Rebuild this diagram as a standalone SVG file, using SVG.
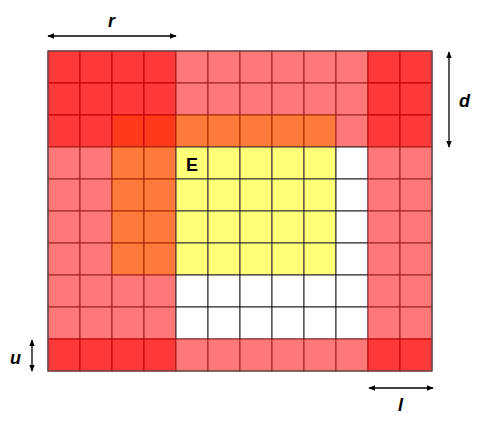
<svg xmlns="http://www.w3.org/2000/svg" width="493" height="438" viewBox="0 0 493 438">
<style>
.R{fill:#FF3939;stroke:#C00000;stroke-width:1}
.O{fill:#FF3A1C;stroke:#C00000;stroke-width:1}
.A{fill:#FF7A3A;stroke:#A02800;stroke-width:1}
.P{fill:#FF7878;stroke:#9A2020;stroke-width:1}
.Y{fill:#FFFF78;stroke:#333;stroke-width:1}
.W{fill:#FFFFFF;stroke:#222;stroke-width:1}
.lbl{font-family:"Liberation Sans",Arial,sans-serif;font-weight:bold;font-style:italic;font-size:18px;fill:#000}
.ar{stroke:#000;stroke-width:1.3;fill:none;marker-start:url(#h);marker-end:url(#h)}
</style>
<defs>
<marker id="h" viewBox="0 0 10 10" refX="9" refY="5" markerWidth="7" markerHeight="7" orient="auto-start-reverse" markerUnits="userSpaceOnUse">
<path d="M0,1 L10,5 L0,9 Z" fill="#000"/>
</marker>
</defs>
<rect x="0" y="0" width="493" height="438" fill="#fff"/>
<g id="grid">
<g transform="translate(48,51)">
<rect class="R" x="0" y="0" width="32" height="32"/><rect class="R" x="32" y="0" width="32" height="32"/><rect class="R" x="64" y="0" width="32" height="32"/><rect class="R" x="96" y="0" width="32" height="32"/>
<rect class="P" x="128" y="0" width="32" height="32"/><rect class="P" x="160" y="0" width="32" height="32"/><rect class="P" x="192" y="0" width="32" height="32"/><rect class="P" x="224" y="0" width="32" height="32"/><rect class="P" x="256" y="0" width="32" height="32"/><rect class="P" x="288" y="0" width="32" height="32"/>
<rect class="R" x="320" y="0" width="32" height="32"/><rect class="R" x="352" y="0" width="32" height="32"/>
</g>
<g transform="translate(48,83)">
<rect class="R" x="0" y="0" width="32" height="32"/><rect class="R" x="32" y="0" width="32" height="32"/><rect class="R" x="64" y="0" width="32" height="32"/><rect class="R" x="96" y="0" width="32" height="32"/>
<rect class="P" x="128" y="0" width="32" height="32"/><rect class="P" x="160" y="0" width="32" height="32"/><rect class="P" x="192" y="0" width="32" height="32"/><rect class="P" x="224" y="0" width="32" height="32"/><rect class="P" x="256" y="0" width="32" height="32"/><rect class="P" x="288" y="0" width="32" height="32"/>
<rect class="R" x="320" y="0" width="32" height="32"/><rect class="R" x="352" y="0" width="32" height="32"/>
</g>
<g transform="translate(48,115)">
<rect class="R" x="0" y="0" width="32" height="32"/><rect class="R" x="32" y="0" width="32" height="32"/><rect class="O" x="64" y="0" width="32" height="32"/><rect class="O" x="96" y="0" width="32" height="32"/>
<rect class="A" x="128" y="0" width="32" height="32"/><rect class="A" x="160" y="0" width="32" height="32"/><rect class="A" x="192" y="0" width="32" height="32"/><rect class="A" x="224" y="0" width="32" height="32"/><rect class="A" x="256" y="0" width="32" height="32"/><rect class="P" x="288" y="0" width="32" height="32"/>
<rect class="R" x="320" y="0" width="32" height="32"/><rect class="R" x="352" y="0" width="32" height="32"/>
</g>
<g transform="translate(48,147)">
<rect class="P" x="0" y="0" width="32" height="32"/><rect class="P" x="32" y="0" width="32" height="32"/><rect class="A" x="64" y="0" width="32" height="32"/><rect class="A" x="96" y="0" width="32" height="32"/>
<rect class="Y" x="128" y="0" width="32" height="32"/><rect class="Y" x="160" y="0" width="32" height="32"/><rect class="Y" x="192" y="0" width="32" height="32"/><rect class="Y" x="224" y="0" width="32" height="32"/><rect class="Y" x="256" y="0" width="32" height="32"/><rect class="W" x="288" y="0" width="32" height="32"/>
<rect class="P" x="320" y="0" width="32" height="32"/><rect class="P" x="352" y="0" width="32" height="32"/>
</g>
<g transform="translate(48,179)">
<rect class="P" x="0" y="0" width="32" height="32"/><rect class="P" x="32" y="0" width="32" height="32"/><rect class="A" x="64" y="0" width="32" height="32"/><rect class="A" x="96" y="0" width="32" height="32"/>
<rect class="Y" x="128" y="0" width="32" height="32"/><rect class="Y" x="160" y="0" width="32" height="32"/><rect class="Y" x="192" y="0" width="32" height="32"/><rect class="Y" x="224" y="0" width="32" height="32"/><rect class="Y" x="256" y="0" width="32" height="32"/><rect class="W" x="288" y="0" width="32" height="32"/>
<rect class="P" x="320" y="0" width="32" height="32"/><rect class="P" x="352" y="0" width="32" height="32"/>
</g>
<g transform="translate(48,211)">
<rect class="P" x="0" y="0" width="32" height="32"/><rect class="P" x="32" y="0" width="32" height="32"/><rect class="A" x="64" y="0" width="32" height="32"/><rect class="A" x="96" y="0" width="32" height="32"/>
<rect class="Y" x="128" y="0" width="32" height="32"/><rect class="Y" x="160" y="0" width="32" height="32"/><rect class="Y" x="192" y="0" width="32" height="32"/><rect class="Y" x="224" y="0" width="32" height="32"/><rect class="Y" x="256" y="0" width="32" height="32"/><rect class="W" x="288" y="0" width="32" height="32"/>
<rect class="P" x="320" y="0" width="32" height="32"/><rect class="P" x="352" y="0" width="32" height="32"/>
</g>
<g transform="translate(48,243)">
<rect class="P" x="0" y="0" width="32" height="32"/><rect class="P" x="32" y="0" width="32" height="32"/><rect class="A" x="64" y="0" width="32" height="32"/><rect class="A" x="96" y="0" width="32" height="32"/>
<rect class="Y" x="128" y="0" width="32" height="32"/><rect class="Y" x="160" y="0" width="32" height="32"/><rect class="Y" x="192" y="0" width="32" height="32"/><rect class="Y" x="224" y="0" width="32" height="32"/><rect class="Y" x="256" y="0" width="32" height="32"/><rect class="W" x="288" y="0" width="32" height="32"/>
<rect class="P" x="320" y="0" width="32" height="32"/><rect class="P" x="352" y="0" width="32" height="32"/>
</g>
<g transform="translate(48,275)">
<rect class="P" x="0" y="0" width="32" height="32"/><rect class="P" x="32" y="0" width="32" height="32"/><rect class="P" x="64" y="0" width="32" height="32"/><rect class="P" x="96" y="0" width="32" height="32"/>
<rect class="W" x="128" y="0" width="32" height="32"/><rect class="W" x="160" y="0" width="32" height="32"/><rect class="W" x="192" y="0" width="32" height="32"/><rect class="W" x="224" y="0" width="32" height="32"/><rect class="W" x="256" y="0" width="32" height="32"/><rect class="W" x="288" y="0" width="32" height="32"/>
<rect class="P" x="320" y="0" width="32" height="32"/><rect class="P" x="352" y="0" width="32" height="32"/>
</g>
<g transform="translate(48,307)">
<rect class="P" x="0" y="0" width="32" height="32"/><rect class="P" x="32" y="0" width="32" height="32"/><rect class="P" x="64" y="0" width="32" height="32"/><rect class="P" x="96" y="0" width="32" height="32"/>
<rect class="W" x="128" y="0" width="32" height="32"/><rect class="W" x="160" y="0" width="32" height="32"/><rect class="W" x="192" y="0" width="32" height="32"/><rect class="W" x="224" y="0" width="32" height="32"/><rect class="W" x="256" y="0" width="32" height="32"/><rect class="W" x="288" y="0" width="32" height="32"/>
<rect class="P" x="320" y="0" width="32" height="32"/><rect class="P" x="352" y="0" width="32" height="32"/>
</g>
<g transform="translate(48,339)">
<rect class="R" x="0" y="0" width="32" height="32"/><rect class="R" x="32" y="0" width="32" height="32"/><rect class="R" x="64" y="0" width="32" height="32"/><rect class="R" x="96" y="0" width="32" height="32"/>
<rect class="P" x="128" y="0" width="32" height="32"/><rect class="P" x="160" y="0" width="32" height="32"/><rect class="P" x="192" y="0" width="32" height="32"/><rect class="P" x="224" y="0" width="32" height="32"/><rect class="P" x="256" y="0" width="32" height="32"/><rect class="P" x="288" y="0" width="32" height="32"/>
<rect class="R" x="320" y="0" width="32" height="32"/><rect class="R" x="352" y="0" width="32" height="32"/>
</g>
<rect x="48" y="51" width="384" height="320" fill="none" stroke="#555" stroke-width="1.2"/>
<text x="186" y="171" font-family="Liberation Sans,Arial,sans-serif" font-weight="bold" font-size="18" fill="#000">E</text>
</g>
<g id="connectors">
<line class="ar" x1="48" y1="36" x2="176" y2="36"/>
<line class="ar" x1="449" y1="52" x2="449" y2="147"/>
<line class="ar" x1="32" y1="340" x2="32" y2="371"/>
<line class="ar" x1="369" y1="388" x2="433" y2="388"/>
</g>
<g id="labels">
<text class="lbl" x="108" y="27">r</text>
<text class="lbl" x="459" y="107">d</text>
<text class="lbl" x="10" y="364">u</text>
<text class="lbl" x="398" y="411">l</text>
</g>
</svg>
